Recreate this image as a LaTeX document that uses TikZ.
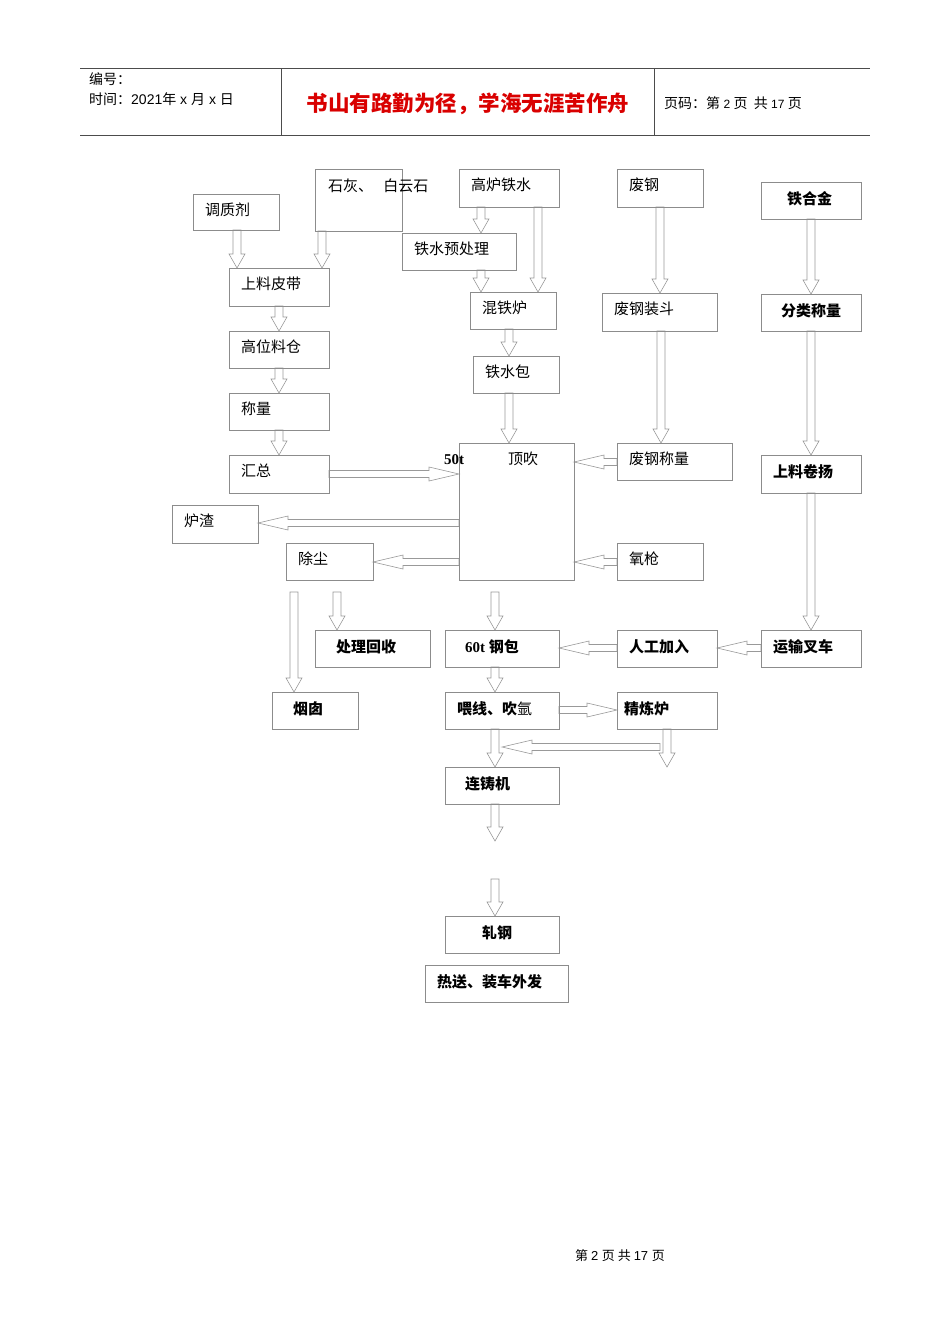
\documentclass[tikz,border=0pt]{standalone}
\usepackage{fontspec}
\setmainfont{Liberation Serif}
\newfontfamily\cjk{Noto Sans CJK SC}
\newfontfamily\hdr{Liberation Sans}
\begin{document}
\begin{tikzpicture}[x=1pt,y=-1pt,
  bx/.style={draw=black!45,line width=0.6pt,inner sep=0pt},
  lbl/.style={anchor=west,font=\cjk\fontsize{15}{15}\selectfont,inner sep=0pt},
  blbl/.style={anchor=west,font=\cjk\bfseries\fontsize{15}{15}\selectfont,inner sep=0pt},
  arr/.style={draw=black!40,fill=white,line width=0.6pt}]
\useasboundingbox (0,0) rectangle (950,1344);
\newcommand\vd[3]{\draw[arr] (#1-4,#2) -- (#1+4,#2) -- (#1+4,#3-14) -- (#1+8,#3-14) -- (#1,#3) -- (#1-8,#3-14) -- (#1-4,#3-14) -- cycle;}
\newcommand\hr[3]{\draw[arr] (#1,#3-3.5) -- (#2-30,#3-3.5) -- (#2-30,#3-7) -- (#2,#3) -- (#2-30,#3+7) -- (#2-30,#3+3.5) -- (#1,#3+3.5) -- cycle;}
\newcommand\hl[3]{\draw[arr] (#1,#3-3.5) -- (#2+30,#3-3.5) -- (#2+30,#3-7) -- (#2,#3) -- (#2+30,#3+7) -- (#2+30,#3+3.5) -- (#1,#3+3.5) -- cycle;}
\newcommand\bxn[6]{\draw[bx] (#2,#3) rectangle (#4,#5); \node[lbl] (#1) at (#2+12,#3+16) {#6};}
\newcommand\bxb[7]{\draw[bx] (#2,#3) rectangle (#4,#5); \node[blbl] (#1) at (#2+#6,#3+17) {#7};}
% header
\draw[black!70,line width=0.7pt] (80,68) -- (870,68) (80,135) -- (870,135) (281,68) -- (281,135) (654,68) -- (654,135);
\node[anchor=west,inner sep=0pt,font=\cjk\fontsize{14}{14}\selectfont] (h1) at (89,79) {编号：};
\node[anchor=west,inner sep=0pt,font=\fontsize{14}{14}\selectfont] (h2) at (89,99) {\cjk 时间：\hdr 2021\cjk 年\hdr\ x\ \cjk 月\hdr\ x\ \cjk 日};
\node[inner sep=0pt,text=red!85!black,font=\cjk\bfseries\fontsize{21.5}{21.5}\selectfont] (title) at (468,104) {书山有路勤为径，学海无涯苦作舟};
\node[anchor=west,inner sep=0pt,font=\fontsize{14}{14}\selectfont] (h3) at (664,103) {\cjk 页码：第\hdr\fontsize{12}{12}\selectfont\ 2\ \cjk\fontsize{14}{14}\selectfont 页\ \ 共\hdr\fontsize{12}{12}\selectfont\ 17\ \cjk\fontsize{14}{14}\selectfont 页};
\node[inner sep=0pt,font=\cjk\fontsize{13}{13}\selectfont] (foot) at (620,1256) {第 \hdr 2 \cjk 页 共 \hdr 17 \cjk 页};
% arrows
\vd{237}{230}{268}\vd{322}{231}{268}\vd{481}{207}{233}\vd{538}{207}{292}\vd{481}{270}{292}
\vd{660}{207}{293}\vd{811}{219}{294}\vd{279}{306}{331}\vd{509}{329}{356}\vd{279}{368}{393}
\vd{279}{430}{455}\vd{509}{393}{443}\vd{661}{331}{443}\vd{811}{331}{455}\vd{811}{493}{630}
\vd{294}{592}{692}\vd{337}{592}{630}\vd{495}{592}{630}\vd{495}{667}{692}\vd{495}{729}{767}
\vd{667}{729}{767}\vd{495}{804}{841}\vd{495}{879}{916}
\hr{329}{459}{474}\hl{459}{258}{523}\hl{459}{373}{562}\hl{617}{574}{462}\hl{617}{574}{562}
\hl{617}{559}{648}\hl{761}{717}{648}\hr{559}{617}{710}\hl{660}{502}{747}
% boxes
\bxn{a1}{193}{194}{279}{230}{调质剂}
\draw[bx] (315,169) rectangle (402,231); \node[lbl] (a2) at (328,186) {石灰、\ \ \ 白云石};
\bxn{a3}{459}{169}{559}{207}{高炉铁水}
\bxn{a4}{402}{233}{516}{270}{铁水预处理}
\bxn{a5}{617}{169}{703}{207}{废钢}
\bxb{a6}{761}{182}{861}{219}{26}{铁合金}
\bxn{a7}{229}{268}{329}{306}{上料皮带}
\bxn{a8}{470}{292}{556}{329}{混铁炉}
\bxn{a9}{602}{293}{717}{331}{废钢装斗}
\bxb{a10}{761}{294}{861}{331}{20}{分类称量}
\bxn{a11}{229}{331}{329}{368}{高位料仓}
\bxn{a12}{473}{356}{559}{393}{铁水包}
\bxn{a13}{229}{393}{329}{430}{称量}
\bxn{a14}{229}{455}{329}{493}{汇总}
\draw[bx] (459,443) rectangle (574,580);
\node[anchor=west,inner sep=0pt,font=\bfseries\fontsize{15}{15}\selectfont] (a15) at (444,460) {50t};
\node[lbl] (a15b) at (508,459) {顶吹};
\bxn{a16}{617}{443}{732}{480}{废钢称量}
\bxb{a17}{761}{455}{861}{493}{12}{上料卷扬}
\bxn{a18}{172}{505}{258}{543}{炉渣}
\bxn{a19}{286}{543}{373}{580}{除尘}
\bxn{a20}{617}{543}{703}{580}{氧枪}
\bxb{a21}{315}{630}{430}{667}{21}{处理回收}
\draw[bx] (445,630) rectangle (559,667); \node[anchor=west,inner sep=0pt,font=\bfseries\fontsize{15}{15}\selectfont] (a22) at (465,647) {60t \cjk 钢包};
\bxb{a23}{617}{630}{717}{667}{12}{人工加入}
\bxb{a24}{761}{630}{861}{667}{12}{运输叉车}
\bxb{a25}{272}{692}{358}{729}{21}{烟囱}
\bxb{a26}{445}{692}{559}{729}{12}{喂线、吹\textmd{氩}}
\bxb{a27}{617}{692}{717}{729}{7}{精炼炉}
\bxb{a28}{445}{767}{559}{804}{20}{连铸机}
\bxb{a29}{445}{916}{559}{953}{37}{轧钢}
\bxb{a30}{425}{965}{568}{1002}{12}{热送、装车外发}
\end{tikzpicture}
\end{document}
